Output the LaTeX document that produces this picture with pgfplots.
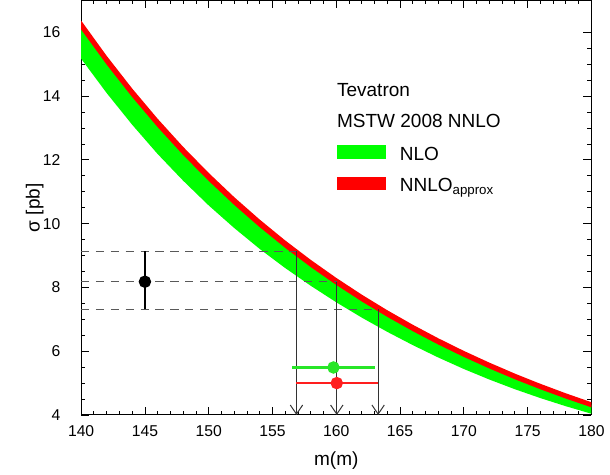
\documentclass[border=0pt]{standalone}
\usepackage{fontspec}
\setmainfont{Liberation Sans}
\usepackage{pgfplots}
\usepackage{pgfplotstable}
\pgfplotsset{compat=1.18}
\usepgfplotslibrary{fillbetween}
\usetikzlibrary{arrows.meta}

\definecolor{bandgreen}{RGB}{0,255,0}
\definecolor{bandred}{RGB}{255,0,0}
\definecolor{ptgreen}{RGB}{40,230,40}
\definecolor{ptred}{RGB}{255,30,30}

% NLO band (gl..gh) and NNLO_approx band (rl..rh)
\pgfplotstableread{
x    gl      gh      rl      rh
140  15.175  16.230  16.090  16.370
142  14.098  15.127  14.990  15.264
144  13.104  14.105  13.971  14.239
146  12.184  13.158  13.027  13.289
148  11.347  12.280  12.152  12.408
150  10.572  11.466  11.341  11.591
152  9.864   10.710  10.588  10.832
154  9.208   10.009  9.890   10.128
156  8.608   9.357   9.241   9.473
158  8.052   8.752   8.639   8.865
160  7.535   8.190   8.080   8.300
162  7.054   7.667   7.560   7.774
164  6.607   7.181   7.077   7.285
166  6.191   6.729   6.628   6.830
168  5.802   6.307   6.209   6.405
170  5.442   5.915   5.820   6.010
172  5.112   5.550   5.458   5.642
174  4.808   5.209   5.120   5.298
176  4.530   4.892   4.806   4.978
178  4.274   4.596   4.513   4.679
180  4.039   4.320   4.240   4.400
}\bands

\begin{document}
\begin{tikzpicture}[font=\fontsize{9.5}{11}\selectfont]
\begin{axis}[
    scale only axis,
    width=309pt, height=251pt,
    xmin=140, xmax=180, ymin=4, ymax=17,
    xtick={140,145,...,180}, ytick={4,6,...,16},
    minor x tick num=4, minor y tick num=3,
    tick align=inside,
    major tick length=4.8pt, minor tick length=2.4pt,
    tick style={black, line width=0.5pt},
    axis line style={line width=0.6pt},
    /pgf/number format/assume math mode=true,
    yticklabel style={xshift=-9pt},
    xticklabel style={yshift=-3pt},
    xlabel={m(m)}, ylabel={σ [pb]},
    label style={font=\fontsize{11.5}{13}\selectfont},
    xlabel style={at={(axis description cs:0.5,-0.110)}, anchor=center},
    ylabel style={at={(axis description cs:-0.091,0.5)}, anchor=center},
    clip=false,
]
\addplot[draw=none, name path=gl] table[x=x, y=gl] {\bands};
\addplot[draw=none, name path=gh] table[x=x, y=gh] {\bands};
\addplot[bandgreen] fill between[of=gl and gh];
\addplot[draw=none, name path=rl] table[x=x, y=rl] {\bands};
\addplot[draw=none, name path=rh] table[x=x, y=rh] {\bands};
\addplot[bandred] fill between[of=rl and rh];

% dashed lines to the measured cross section
\addplot[black!65, dash pattern=on 5pt off 4pt, line width=0.5pt] coordinates {(140,9.13) (156.88,9.13)};
\addplot[black!65, dash pattern=on 5pt off 4pt, line width=0.5pt] coordinates {(140,8.18) (160.04,8.18)};
\addplot[black!65, dash pattern=on 5pt off 4pt, line width=0.5pt] coordinates {(140,7.32) (163.28,7.32)};

% arrows down to the mass axis
\addplot[black!80, line width=0.6pt, -{Straight Barb[length=5.5pt,width=7.5pt]}] coordinates {(156.88,9.13) (156.88,4)};
\addplot[black!80, line width=0.6pt, -{Straight Barb[length=5.5pt,width=7.5pt]}] coordinates {(160.04,8.18) (160.04,4)};
\addplot[black!80, line width=0.6pt, -{Straight Barb[length=5.5pt,width=7.5pt]}] coordinates {(163.28,7.32) (163.28,4)};

% measured cross section: bar with the central value marked
\addplot[color=black, line width=1.3pt, mark=*, mark size=3.1pt, mark indices={2}]
    coordinates {(145,7.32) (145,8.18) (145,9.13)};

% extracted masses
\addplot[color=ptgreen, line width=1.3pt, mark=*, mark size=3.1pt, mark indices={2}]
    coordinates {(156.54,5.49) (159.78,5.49) (163.0,5.49)};
\addplot[color=ptred, line width=1.3pt, mark=*, mark size=3.1pt, mark indices={2}]
    coordinates {(156.88,5.0) (160.04,5.0) (163.28,5.0)};

% legend
\begin{scope}[font=\fontsize{11.5}{13}\selectfont]
\node[anchor=base west, inner sep=0pt] at (axis cs:160.04,14.0) {Tevatron};
\node[anchor=base west, inner sep=0pt] at (axis cs:160.04,13.01) {MSTW 2008 NNLO};
\fill[bandgreen] (axis cs:160.09,12.04) rectangle (axis cs:163.92,12.48);
\node[anchor=base west, inner sep=0pt] at (axis cs:164.96,11.99) {NLO};
\fill[bandred] (axis cs:160.09,11.05) rectangle (axis cs:163.92,11.47);
\node[anchor=base west, inner sep=0pt] at (axis cs:164.96,11.0) {NNLO\textsubscript{approx}};
\end{scope}
% white margin left of the y label, as in the original
\path (rel axis cs:-0.159,0.5);
\end{axis}
\end{tikzpicture}
\end{document}
